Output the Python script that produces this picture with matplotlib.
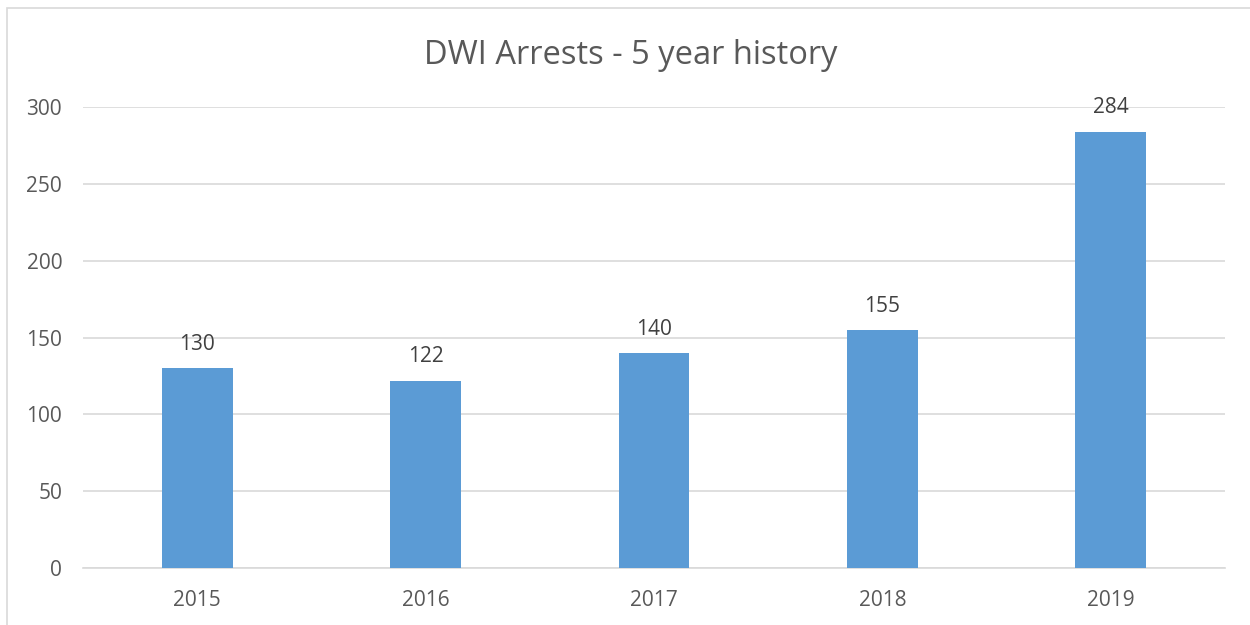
import matplotlib.pyplot as plt
from matplotlib.patches import Rectangle

years = ["2015", "2016", "2017", "2018", "2019"]
arrests = [130, 122, 140, 155, 284]
y_ticks = [0, 50, 100, 150, 200, 250, 300]

plt.rcParams['font.family'] = ['Open Sans', 'DejaVu Sans']

fig = plt.figure(figsize=(12.5, 6.25), dpi=100)
ax = fig.add_axes([0.0664, 0.0912, 0.9136, 0.7376])

x = range(len(years))
bars = ax.bar(x, arrests, width=0.31, color='#5B9BD5', zorder=3)
for rect, v in zip(bars, arrests):
    ax.annotate(str(v), (rect.get_x() + rect.get_width() / 2, v),
                xytext=(0, 9.5), textcoords='offset points',
                ha='center', va='bottom', fontsize=15, color='#404040')

ax.set_xlim(-0.5, len(years) - 0.5)
ax.set_ylim(0, 300)
ax.set_yticks(y_ticks)
ax.set_xticks(list(x))
ax.set_xticklabels(years)
ax.tick_params(axis='both', length=0, labelsize=15, labelcolor='#595959')
ax.tick_params(axis='y', pad=15)
ax.tick_params(axis='x', pad=16)
ax.grid(axis='y', color='#D9D9D9', linewidth=1.2, zorder=0)
for s in ['top', 'right', 'left']:
    ax.spines[s].set_visible(False)
ax.spines['bottom'].set_color('#D9D9D9')
ax.spines['bottom'].set_linewidth(1.2)

fig.text(0.505, 0.912, "DWI Arrests - 5 year history", ha='center', va='center',
         fontsize=23.5, color='#595959')

fig.patches.append(Rectangle((7 / 1250, -0.05), 1.1, 1 - 8 / 625 + 0.05,
                             transform=fig.transFigure, fill=False,
                             edgecolor='#D9D9D9', linewidth=1.2))

fig.savefig("out.png", dpi=100)
